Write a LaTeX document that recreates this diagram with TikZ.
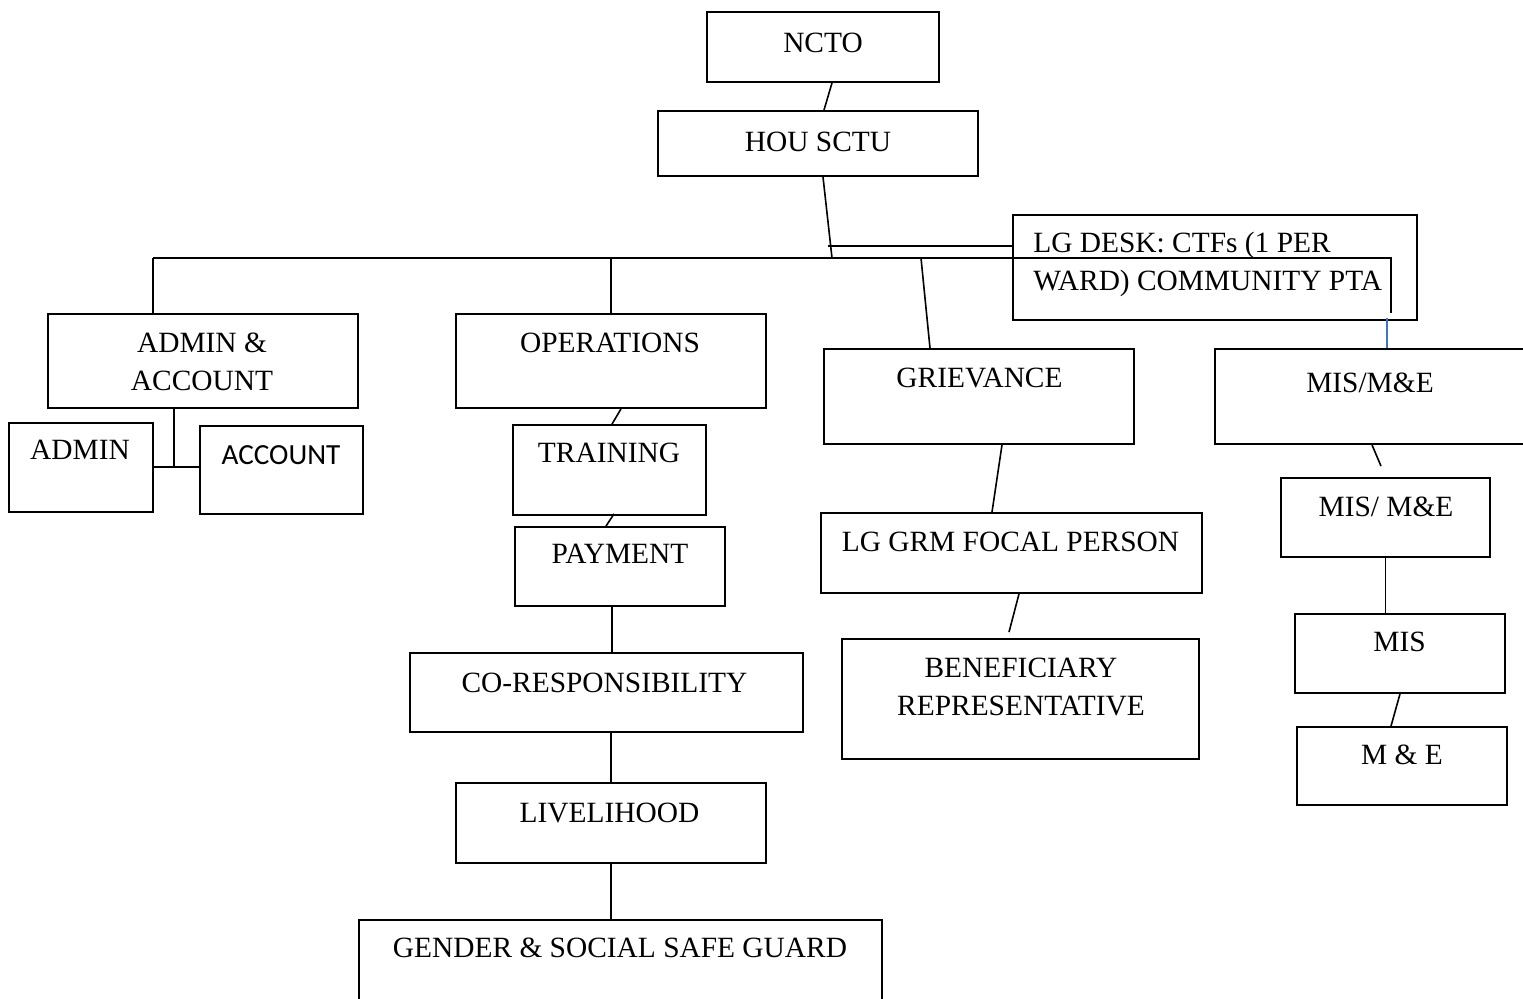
\documentclass[tikz,border=0pt]{standalone}
\usepackage{fontspec}
\setmainfont{Liberation Serif}
\newfontfamily\calibri{Carlito}
\usepackage{tikz}
\definecolor{wordblue}{RGB}{68,114,196}

\begin{document}
\begin{tikzpicture}[x=0.5pt, y=-0.5pt,
    box/.style={rectangle, draw=black, line width=0.9pt, inner sep=0pt},
    lbl/.style={inner sep=0pt, font=\fontsize{14.7}{19}\selectfont},
    wire/.style={line width=0.8pt}]
    \useasboundingbox (0,0) rectangle (1523,999);

    % boxes
    \node[box, minimum width=116pt, minimum height=35pt] (ncto) at (823, 47) {};
    \node[box, minimum width=160pt, minimum height=32.5pt] (hou) at (818, 143.5) {};
    \node[box, minimum width=202pt, minimum height=52.5pt] (lgdesk) at (1215, 267.5) {};
    \node[box, minimum width=155pt, minimum height=47pt] (admacc) at (203, 361) {};
    \node[box, minimum width=72pt, minimum height=44.5pt] (admin) at (81, 467.5) {};
    \node[box, minimum width=81.5pt, minimum height=44pt] (account) at (281.5, 470) {};
    \node[box, minimum width=155pt, minimum height=47pt] (ops) at (611, 361) {};
    \node[box, minimum width=96.5pt, minimum height=45pt] (training) at (609.5, 470) {};
    \node[box, minimum width=105pt, minimum height=39.5pt] (payment) at (620, 566.5) {};
    \node[box, minimum width=196.5pt, minimum height=39.5pt] (coresp) at (606.5, 692.5) {};
    \node[box, minimum width=155pt, minimum height=40pt] (livelihood) at (611, 823) {};
    \node[box, minimum width=261.5pt, minimum height=45pt] (gender) at (620.5, 965) {};
    \node[box, minimum width=155pt, minimum height=47.5pt] (grievance) at (979, 396.5) {};
    \node[box, minimum width=190.5pt, minimum height=40pt] (lggrm) at (1011.5, 553) {};
    \node[box, minimum width=178.5pt, minimum height=60pt] (benef) at (1020.5, 699) {};
    \node[box, minimum width=165pt, minimum height=47.5pt] (mistop) at (1380, 396.5) {};
    \node[box, minimum width=104.5pt, minimum height=39.5pt] (mismid) at (1385.5, 517.5) {};
    \node[box, minimum width=105pt, minimum height=39.5pt] (mis) at (1400, 653.5) {};
    \node[box, minimum width=105pt, minimum height=39pt] (me) at (1402, 766) {};

    % texts
    \node[lbl] (ncto-t) at (823, 43) {NCTO};
    \node[lbl] (hou-t) at (818, 142) {HOU SCTU};
    \node[lbl, align=left, anchor=west] (lgdesk-t) at (1033, 264) {LG DESK: CTFs (1 PER\\WARD) COMMUNITY PTA};
    \node[lbl, align=center] (admacc-t) at (202, 361.5) {ADMIN \&\\ACCOUNT};
    \node[lbl] (admin-t) at (80, 450) {ADMIN};
    \node[lbl, font=\calibri\fontsize{14.6}{18}\selectfont] (account-t) at (281, 455) {ACCOUNT};
    \node[lbl] (ops-t) at (610, 343) {OPERATIONS};
    \node[lbl] (training-t) at (609, 453) {TRAINING};
    \node[lbl] (payment-t) at (620, 554) {PAYMENT};
    \node[lbl] (coresp-t) at (604.5, 683) {CO-RESPONSIBILITY};
    \node[lbl] (livelihood-t) at (609.5, 813) {LIVELIHOOD};
    \node[lbl] (gender-t) at (620, 948) {GENDER \& SOCIAL SAFE GUARD};
    \node[lbl] (grievance-t) at (979.5, 378) {GRIEVANCE};
    \node[lbl] (lggrm-t) at (1010.5, 542) {LG GRM FOCAL PERSON};
    \node[lbl, align=center] (benef-t) at (1021, 687) {BENEFICIARY\\REPRESENTATIVE};
    \node[lbl] (mistop-t) at (1370, 383) {MIS/M\&E};
    \node[lbl] (mismid-t) at (1386, 507) {MIS/ M\&E};
    \node[lbl] (mis-t) at (1399.5, 642) {MIS};
    \node[lbl] (me-t) at (1402, 755) {M \& E};

    % main bar
    \coordinate (b1) at (153, 258);
    \coordinate (b2) at (611, 258);
    \coordinate (hub) at (832, 258);
    \coordinate (b3) at (921, 258);
    \coordinate (b4) at (1391, 258);
    \coordinate (b5) at (1391, 313);
    \coordinate (blu) at (1387, 318);

    \draw[wire] ([xshift=4.5pt]ncto.south) -- ([xshift=3pt]hou.north);
    \draw[wire] ([xshift=2.5pt]hou.south) -- (hub);
    \draw[wire] (b1) -- (b4) -- (b5);
    \draw[wire] ([yshift=10.75pt]lgdesk.west) -- ++(-184, 0);
    \draw[wordblue, line width=0.6pt] (blu) -- ([xshift=3.5pt]mistop.north);

    % admin side
    \draw[wire] (b1) -- (b1 |- admacc.north);
    \draw[wire] ([xshift=-14.5pt]admacc.south) -- ++(0, 58) coordinate (aj);
    \draw[wire] (admin.east |- aj) -- (account.west |- aj);

    % operations side
    \draw[wire] (b2) -- (ops.north);
    \draw[wire] ([xshift=5pt]ops.south) -- ([xshift=1.25pt]training.north);
    \draw[wire] ([xshift=2.25pt, yshift=1pt]training.south) -- ([xshift=-7pt]payment.north);
    \draw[wire] ([xshift=-4pt]payment.south) coordinate (p1) -- (p1 |- coresp.north);
    \draw[wire] (livelihood.north |- coresp.south) -- (livelihood.north);
    \draw[wire] (livelihood.south) -- (livelihood.south |- gender.north);

    % grievance side
    \draw[wire] (b3) -- ([xshift=-24.5pt]grievance.north);
    \draw[wire] ([xshift=11.5pt]grievance.south) -- ([xshift=-9.75pt]lggrm.north);
    \draw[wire] ([xshift=3.75pt]lggrm.south) -- ([xshift=-5.75pt, yshift=3pt]benef.north);

    % mis side
    \draw[wire] ([xshift=-4pt]mistop.south) -- ([xshift=-2.25pt, yshift=5.5pt]mismid.north);
    \draw[wire] (mismid.south) -- (mismid.south |- mis.north);
    \draw[wire] (mis.south) -- ([xshift=-5.5pt]me.north);
\end{tikzpicture}
\end{document}
